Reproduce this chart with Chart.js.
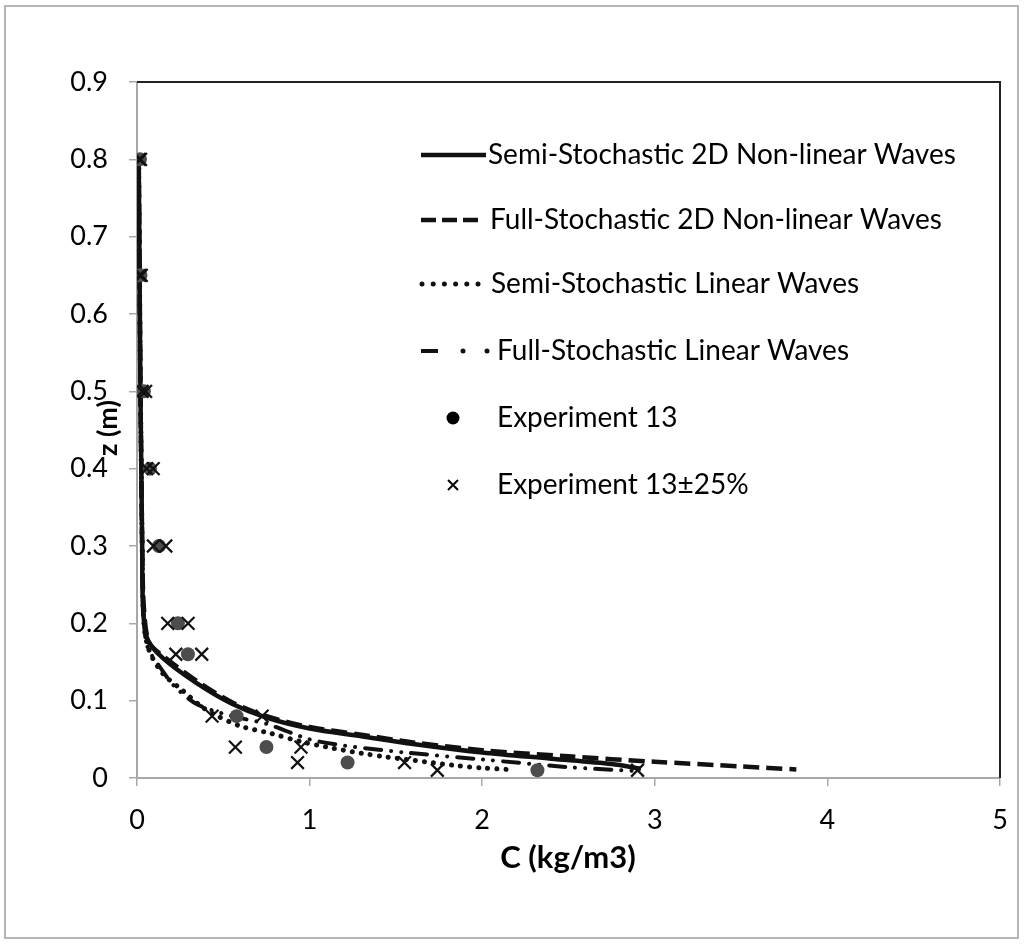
<!DOCTYPE html>
<html>
<head>
<meta charset="utf-8">
<script src="https://cdn.jsdelivr.net/npm/chart.js@4.4.1/dist/chart.umd.min.js"></script>
<style>
  html, body { margin:0; padding:0; background:#fff; }
  canvas { display:block; }
</style>
</head>
<body>
<canvas id="chart" width="1026" height="947"></canvas>
<script>
/* sediment concentration profile: z (m) vs C (kg/m3) */

// series, [C, z]
const semiNonlinC = [0.01, 0.015, 0.02, 0.025, 0.03, 0.035, 0.06, 0.15, 0.35, 0.55, 0.75, 1.0, 1.3, 1.6, 2.0, 2.4, 2.75, 2.92];
const semiNonlinZ = [0.8, 0.65, 0.5, 0.4, 0.3, 0.22, 0.18, 0.155, 0.122, 0.096, 0.078, 0.064, 0.054, 0.044, 0.033, 0.025, 0.018, 0.012];

const fullNonlinC = [0.01, 0.015, 0.02, 0.025, 0.03, 0.04, 0.07, 0.15, 0.35, 0.55, 0.75, 1.0, 1.3, 1.6, 2.0, 2.5, 3.0, 3.5, 3.82];
const fullNonlinZ = [0.8, 0.65, 0.5, 0.4, 0.3, 0.22, 0.175, 0.158, 0.125, 0.098, 0.08, 0.066, 0.056, 0.046, 0.036, 0.028, 0.021, 0.015, 0.011];

const semiLinC = [0.01, 0.015, 0.02, 0.025, 0.03, 0.04, 0.07, 0.15, 0.26, 0.37, 0.45, 0.6, 0.77, 0.95, 1.1, 1.3, 1.45, 1.67, 1.85, 2.0, 2.15];
const semiLinZ = [0.8, 0.65, 0.5, 0.4, 0.3, 0.2, 0.165, 0.135, 0.114, 0.093, 0.082, 0.067, 0.058, 0.047, 0.04, 0.032, 0.027, 0.021, 0.016, 0.013, 0.011];

const fullLinC = [0.01, 0.015, 0.02, 0.025, 0.03, 0.04, 0.06, 0.15, 0.22, 0.35, 0.55, 0.75, 1.0, 1.2, 1.55, 2.0, 2.5, 2.9];
const fullLinZ = [0.8, 0.65, 0.5, 0.4, 0.3, 0.21, 0.17, 0.138, 0.118, 0.095, 0.08, 0.07, 0.05, 0.042, 0.033, 0.024, 0.014, 0.009];

const expC = [0.017, 0.02, 0.04, 0.075, 0.127, 0.237, 0.295, 0.577, 0.75, 1.22, 2.32];
const expZ = [0.8, 0.65, 0.5, 0.4, 0.3, 0.2, 0.16, 0.08, 0.04, 0.02, 0.01];

// +/-25% band of the experiment (low and high ends)
const expLowC  = [0.013, 0.015, 0.03, 0.056, 0.095, 0.178, 0.225, 0.435, 0.57, 0.93, 1.74];
const expHighC = [0.021, 0.025, 0.05, 0.094, 0.167, 0.296, 0.375, 0.725, 0.95, 1.55, 2.9];

const xTicks = ['0', '1', '2', '3', '4', '5'];
const yTicks = ['0', '0.1', '0.2', '0.3', '0.4', '0.5', '0.6', '0.7', '0.8', '0.9'];

const legendLabels = [
  'Semi-Stochastic 2D Non-linear Waves',
  'Full-Stochastic 2D Non-linear Waves',
  'Semi-Stochastic Linear Waves',
  'Full-Stochastic Linear Waves',
  'Experiment 13',
  'Experiment 13\u00B125%'
];

const pts = (xs, ys) => xs.map((x, i) => ({ x: x, y: ys[i] }));
const FONT = 'Lato, "Open Sans", sans-serif';

const solidDash = [];
const dashDash = [16, 7];
const dotDash = [0.1, 9];
const dashDotDot = [16, 10, 0.1, 10, 0.1, 10];

const lineSet = (label, data, dash, width, cap, order) => ({
  label, data, showLine: true, pointRadius: 0, borderColor: '#111', backgroundColor: '#111',
  borderWidth: width, borderDash: dash, borderCapStyle: cap, tension: 0.3, fill: false, order
});

const decor = {
  id: 'decor',
  afterDraw(chart){
    const ctx = chart.ctx, a = chart.chartArea;
    ctx.save();
    // outer frame
    ctx.strokeStyle = '#b5b5b5';
    ctx.lineWidth = 2;
    ctx.strokeRect(5, 6, 1013, 932);
    // top and right border of plot area
    ctx.strokeStyle = '#222';
    ctx.lineWidth = 2;
    ctx.beginPath();
    ctx.moveTo(a.left, a.top); ctx.lineTo(a.right, a.top); ctx.lineTo(a.right, a.bottom);
    ctx.stroke();

    // axis titles
    ctx.fillStyle = '#000';
    ctx.font = 'bold 31px ' + FONT;
    ctx.textAlign = 'center';
    ctx.textBaseline = 'middle';
    ctx.fillText('C (kg/m3)', 568, 858);
    ctx.font = 'bold 27px ' + FONT;
    ctx.save();
    ctx.translate(108, 428);
    ctx.rotate(-Math.PI / 2);
    ctx.fillText('z (m)', 0, 0);
    ctx.restore();

    // legend
    const rows = [155, 220, 284, 351, 418, 485];
    const textX = [488, 490, 491, 497, 497, 497];
    ctx.font = '28px ' + FONT;
    ctx.textAlign = 'left';
    ctx.strokeStyle = '#111';
    ctx.fillStyle = '#111';
    // solid
    ctx.lineWidth = 4.5;
    ctx.beginPath(); ctx.moveTo(421, rows[0]); ctx.lineTo(486, rows[0]); ctx.stroke();
    // dashed
    ctx.lineWidth = 4.5;
    ctx.setLineDash([15, 6]);
    ctx.beginPath(); ctx.moveTo(421, rows[1]); ctx.lineTo(478, rows[1]); ctx.stroke();
    ctx.setLineDash([]);
    // dotted
    for (let k = 0; k < 6; k++) {
      ctx.beginPath(); ctx.arc(422 + k * 11.2, rows[2], 2.5, 0, Math.PI * 2); ctx.fill();
    }
    // dash dot dot
    ctx.lineWidth = 4;
    ctx.beginPath(); ctx.moveTo(421, rows[3]); ctx.lineTo(438, rows[3]); ctx.stroke();
    ctx.beginPath(); ctx.arc(463, rows[3], 2.5, 0, Math.PI * 2); ctx.fill();
    ctx.beginPath(); ctx.arc(487, rows[3], 2.5, 0, Math.PI * 2); ctx.fill();
    // circle
    ctx.fillStyle = '#000';
    ctx.beginPath(); ctx.arc(453, rows[4], 6.5, 0, Math.PI * 2); ctx.fill();
    // cross
    ctx.strokeStyle = '#000'; ctx.lineWidth = 2;
    ctx.beginPath();
    ctx.moveTo(448, rows[5] - 5); ctx.lineTo(458, rows[5] + 5);
    ctx.moveTo(458, rows[5] - 5); ctx.lineTo(448, rows[5] + 5);
    ctx.stroke();

    for (let i = 0; i < 6; i++) {
      ctx.fillText(legendLabels[i], textX[i], rows[i]);
    }
    ctx.restore();
  }
};

new Chart(document.getElementById('chart'), {
  type: 'scatter',
  data: {
    datasets: [
      lineSet(legendLabels[0], pts(semiNonlinC, semiNonlinZ), solidDash, 4.5, 'butt', 3),
      lineSet(legendLabels[1], pts(fullNonlinC, fullNonlinZ), dashDash, 4.5, 'butt', 2),
      lineSet(legendLabels[2], pts(semiLinC, semiLinZ), dotDash, 5, 'round', 4),
      lineSet(legendLabels[3], pts(fullLinC, fullLinZ), dashDotDot, 4, 'round', 5),
      { label: legendLabels[4], data: pts(expC, expZ), pointStyle: 'circle', pointRadius: 7,
        backgroundColor: '#4d4d4d', borderColor: '#4d4d4d', borderWidth: 0, order: 1 },
      { label: legendLabels[5], data: pts(expLowC, expZ).concat(pts(expHighC, expZ)), pointStyle: 'crossRot',
        pointRadius: 9, borderColor: '#111', borderWidth: 2.2, order: 0 }
    ]
  },
  options: {
    responsive: false,
    animation: false,
    layout: { padding: { left: 0, top: 82, right: 26, bottom: 0 } },
    plugins: { legend: { display: false }, tooltip: { enabled: false } },
    scales: {
      x: {
        type: 'linear', min: 0, max: 5,
        afterFit(s){ s.height = 169; },
        afterBuildTicks(s){ s.ticks = xTicks.map(Number).map(v => ({ value: v })); },
        ticks: { font: { family: FONT, size: 27 }, color: '#000', padding: 18,
                 callback: (v, i) => xTicks[i] },
        grid: { drawOnChartArea: false, tickLength: 8, color: '#a8a8a8', lineWidth: 1.5 },
        border: { color: '#a8a8a8', width: 2 }
      },
      y: {
        min: 0, max: 0.9,
        afterFit(s){ s.width = 137; },
        afterBuildTicks(s){ s.ticks = yTicks.map(Number).map(v => ({ value: v })); },
        ticks: { font: { family: FONT, size: 27 }, color: '#000', padding: 21,
                 callback: (v, i) => yTicks[i] },
        grid: { drawOnChartArea: false, tickLength: 8, color: '#a8a8a8', lineWidth: 1.5 },
        border: { color: '#a8a8a8', width: 2 }
      }
    }
  },
  plugins: [decor]
});
</script>
</body>
</html>
